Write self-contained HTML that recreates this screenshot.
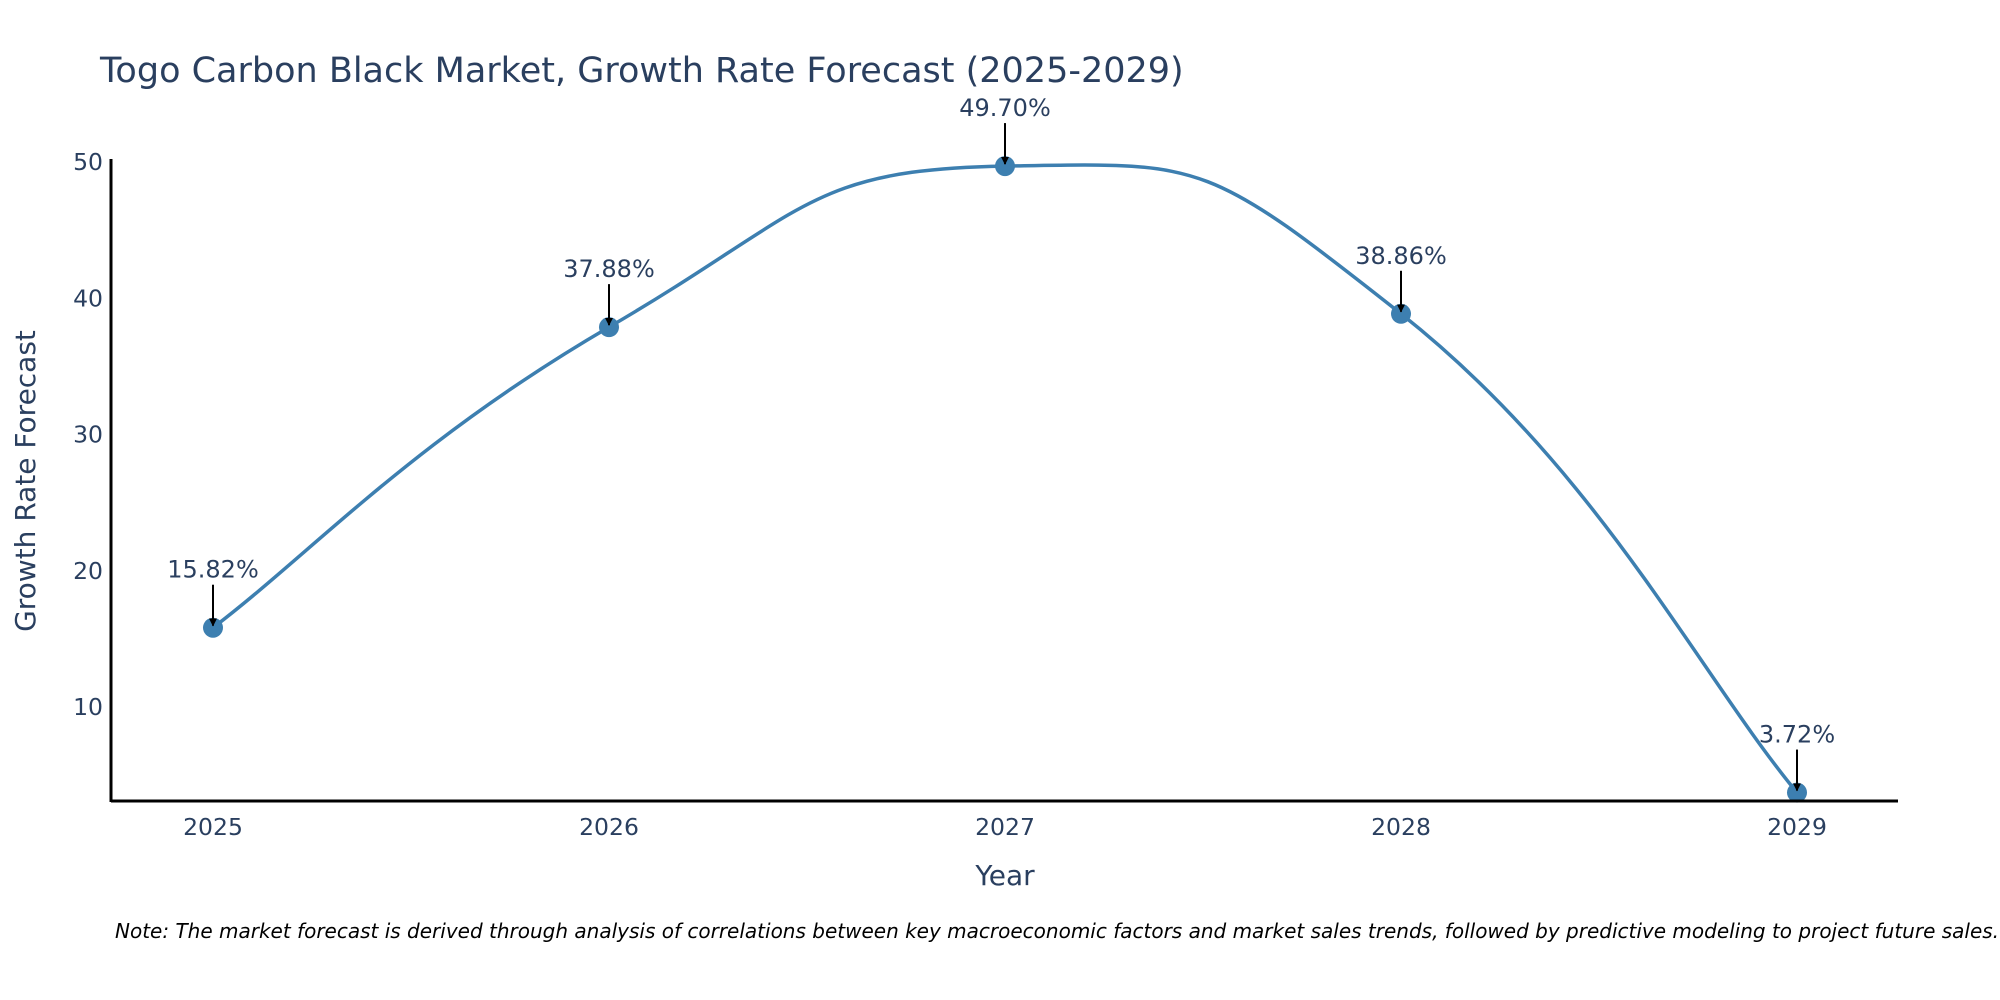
<!DOCTYPE html>
<html><head><meta charset="utf-8">
<style>
html,body{margin:0;padding:0;background:#fff;overflow:hidden;}
svg{display:block;font-family:"DejaVu Sans","Liberation Sans",sans-serif;}
</style></head>
<body>
<svg id="chart" width="2000" height="1000" viewBox="0 0 2000 1000">
<defs>
<marker id="ah" viewBox="0 0 10 10" refX="9" refY="5" markerWidth="8" markerHeight="8" markerUnits="userSpaceOnUse" orient="auto">
<path d="M0,0 L10,5 L0,10 z" fill="#000"/>
</marker>
</defs>
<text x="100" y="82" font-size="35" fill="#2a3f5f">Togo Carbon Black Market, Growth Rate Forecast (2025-2029)</text>
<g id="series"></g>
<g id="annos"></g>
<line x1="111" y1="801" x2="1898" y2="801" stroke="#000" stroke-width="3"/>
<line x1="111" y1="159" x2="111" y2="802" stroke="#000" stroke-width="3"/>
<g id="xticks"></g>
<g id="yticks"></g>
<text x="1005" y="885" font-size="28" fill="#2a3f5f" text-anchor="middle">Year</text>
<text transform="translate(35,481) rotate(-90)" font-size="28" fill="#2a3f5f" text-anchor="middle">Growth Rate Forecast</text>
<text x="115" y="938" font-size="20" font-style="italic" fill="#000">Note: The market forecast is derived through analysis of correlations between key macroeconomic factors and market sales trends, followed by predictive modeling to project future sales.</text>
</svg>
<script>
const years = [2025, 2026, 2027, 2028, 2029];
const values = [15.82, 37.88, 49.70, 38.86, 3.72];
const valueLabels = ["15.82%", "37.88%", "49.70%", "38.86%", "3.72%"];
const yTicks = [10, 20, 30, 40, 50];

const NS = "http://www.w3.org/2000/svg";
function xs(v){ return 213 + (v - 2025) * (1797 - 213) / 4; }
function ys(v){ return 707 - (v - 10) * (707 - 162) / 40; }
function mk(tag, attrs, parent, txt){
  const e = document.createElementNS(NS, tag);
  for (const k in attrs) e.setAttribute(k, attrs[k]);
  if (txt !== undefined) e.textContent = txt;
  parent.appendChild(e);
  return e;
}
const xt = document.getElementById('xticks');
years.forEach(y => {
  const t = mk('text', {x: xs(y), y: 835, 'font-size': 23.5, fill: '#2a3f5f', 'text-anchor': 'middle'}, xt, String(y));
  
  
});
const yt = document.getElementById('yticks');
yTicks.forEach(v => {
  const t = mk('text', {x: 103, y: ys(v) + 8, 'font-size': 23.5, fill: '#2a3f5f', 'text-anchor': 'end'}, yt, String(v));
  
  
});
const pts = years.map((y, i) => [xs(y), ys(values[i])]);
let d = `M${pts[0][0]},${pts[0][1]}`;
const tension = 0.25;
for (let i = 0; i < pts.length - 1; i++) {
  const p0 = pts[Math.max(0, i-1)], p1 = pts[i], p2 = pts[i+1], p3 = pts[Math.min(pts.length-1, i+2)];
  const c1 = [p1[0] + (p2[0]-p0[0])*tension, p1[1] + (p2[1]-p0[1])*tension];
  const c2 = [p2[0] - (p3[0]-p1[0])*tension, p2[1] - (p3[1]-p1[1])*tension];
  d += ` C${c1[0]},${c1[1]} ${c2[0]},${c2[1]} ${p2[0]},${p2[1]}`;
}
const sg = document.getElementById('series');
const line = mk('path', {d: d, fill: 'none', stroke: '#3d7fb0', 'stroke-width': 3.5}, sg);


pts.forEach(p => {
  const c = mk('circle', {cx: p[0], cy: p[1], r: 10, fill: '#3d7fb0'}, sg);
  
  
});
const ag = document.getElementById('annos');
pts.forEach((p, i) => {
  const a = mk('line', {x1: p[0], y1: p[1] - 43, x2: p[0], y2: p[1] - 2, stroke: '#000', 'stroke-width': 2, 'marker-end': 'url(#ah)'}, ag);
  
  
  const t = mk('text', {x: p[0], y: p[1] - 50, 'font-size': 24, fill: '#2a3f5f', 'text-anchor': 'middle'}, ag, valueLabels[i]);
  
  
});
</script>
</body></html>
